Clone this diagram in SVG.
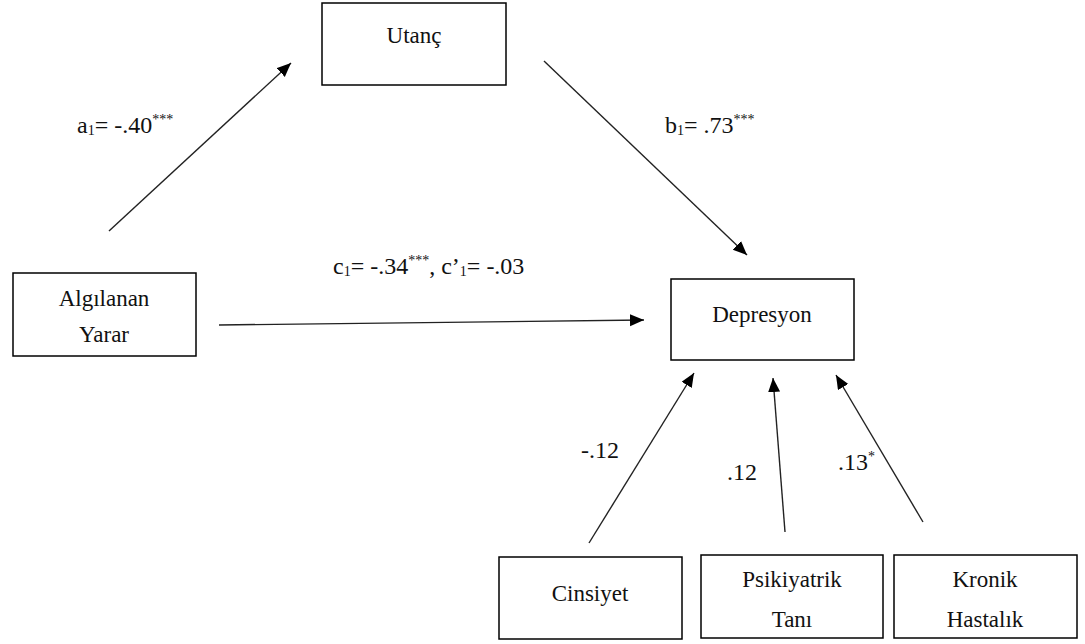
<svg xmlns="http://www.w3.org/2000/svg" width="1085" height="644" viewBox="0 0 1085 644">
<style>
.box{fill:#fff;stroke:#000;stroke-width:1.5}
.t{font-family:'Liberation Serif','Tinos','DejaVu Serif',serif;font-size:23px;fill:#111}
.lbl{font-family:'Liberation Serif','Tinos','DejaVu Serif',serif;font-size:24px;fill:#111}
.sub{font-size:14px}
.sup{font-size:14px}
.c{stroke:#222;stroke-width:1.4;fill:none}
</style>
<defs>
<marker id="ah" markerUnits="userSpaceOnUse" markerWidth="16" markerHeight="14" refX="14" refY="6" orient="auto">
<path d="M0,0 L14,6 L0,12 Z" fill="#000"/>
</marker>
</defs>
<rect width="1085" height="644" fill="#fff"/>
<g id="connectors">
<line class="c" x1="109" y1="231" x2="291" y2="63" marker-end="url(#ah)"/>
<line class="c" x1="544" y1="61" x2="747" y2="255" marker-end="url(#ah)"/>
<line class="c" x1="219" y1="325" x2="644" y2="320" marker-end="url(#ah)"/>
<line class="c" x1="589" y1="543" x2="694" y2="373" marker-end="url(#ah)"/>
<line class="c" x1="785" y1="532" x2="773" y2="378" marker-end="url(#ah)"/>
<line class="c" x1="923" y1="522" x2="836" y2="375" marker-end="url(#ah)"/>
</g>
<g id="labels">
<text class="lbl" x="77" y="133">a<tspan class="sub" dy="2">1</tspan><tspan dy="-2">= -.40</tspan><tspan class="sup" dy="-9">***</tspan></text>
<text class="lbl" x="665" y="133">b<tspan class="sub" dy="2">1</tspan><tspan dy="-2">= .73</tspan><tspan class="sup" dy="-9">***</tspan></text>
<text class="lbl" x="333" y="274">c<tspan class="sub" dy="2">1</tspan><tspan dy="-2">= -.34</tspan><tspan class="sup" dy="-9">***</tspan><tspan dy="9">, c’</tspan><tspan class="sub" dy="2">1</tspan><tspan dy="-2">= -.03</tspan></text>
<text class="lbl" x="581" y="458">-.12</text>
<text class="lbl" x="727" y="480">.12</text>
<text class="lbl" x="838" y="470">.13<tspan class="sup" dy="-9">*</tspan></text>
</g>
<g id="utanc">
<rect class="box" x="322" y="3" width="184" height="82"/>
<text class="t" x="414" y="43" text-anchor="middle">Utanç</text>
</g>
<g id="algilanan">
<rect class="box" x="13" y="273" width="183" height="83"/>
<text class="t" x="104" y="306" text-anchor="middle">Algılanan</text>
<text class="t" x="104" y="342" text-anchor="middle">Yarar</text>
</g>
<g id="depresyon">
<rect class="box" x="671" y="279" width="183" height="81"/>
<text class="t" x="762" y="322" text-anchor="middle">Depresyon</text>
</g>
<g id="cinsiyet">
<rect class="box" x="499" y="557" width="183" height="82"/>
<text class="t" x="590" y="601" text-anchor="middle">Cinsiyet</text>
</g>
<g id="psikiyatrik">
<rect class="box" x="701" y="555" width="182" height="83"/>
<text class="t" x="792" y="587" text-anchor="middle">Psikiyatrik</text>
<text class="t" x="792" y="627" text-anchor="middle">Tanı</text>
</g>
<g id="kronik">
<rect class="box" x="894" y="555" width="183" height="83"/>
<text class="t" x="985" y="587" text-anchor="middle">Kronik</text>
<text class="t" x="985" y="627" text-anchor="middle">Hastalık</text>
</g>
</svg>
